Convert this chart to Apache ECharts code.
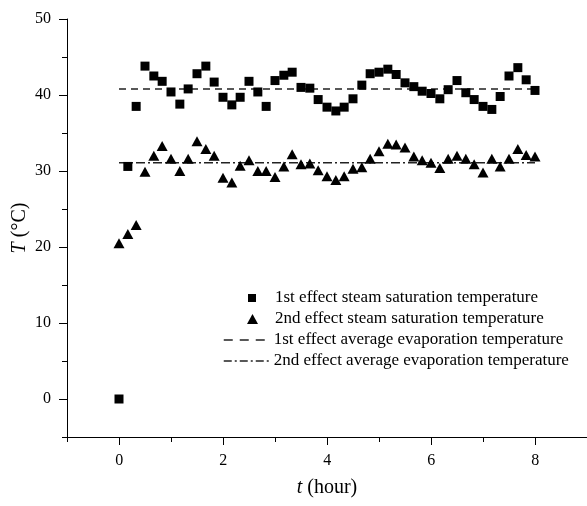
<!DOCTYPE html>
<html>
<head>
<meta charset="utf-8">
<script src="https://cdn.jsdelivr.net/npm/echarts@6/dist/echarts.min.js"></script>
<style>
  html, body { margin: 0; padding: 0; background: #fff; }
  #chart { width: 587px; height: 506px; }
</style>
</head>
<body>
<div id="chart"></div>
<script>
// Sampling times (hour), one reading every 10 minutes
const times = [0, 0.17, 0.33, 0.5, 0.67, 0.83, 1, 1.17, 1.33, 1.5, 1.67, 1.83,
  2, 2.17, 2.33, 2.5, 2.67, 2.83, 3, 3.17, 3.33, 3.5, 3.67, 3.83,
  4, 4.17, 4.33, 4.5, 4.67, 4.83, 5, 5.17, 5.33, 5.5, 5.67, 5.83,
  6, 6.17, 6.33, 6.5, 6.67, 6.83, 7, 7.17, 7.33, 7.5, 7.67, 7.83, 8];

// 1st effect steam saturation temperature (°C)
const firstSteam = [0, 30.6, 38.5, 43.8, 42.5, 41.8, 40.4, 38.8, 40.8, 42.8, 43.8, 41.7,
  39.7, 38.7, 39.7, 41.8, 40.4, 38.5, 41.9, 42.6, 43.0, 41.0, 40.9, 39.4,
  38.4, 37.9, 38.4, 39.5, 41.3, 42.8, 43.0, 43.4, 42.7, 41.6, 41.1, 40.5,
  40.2, 39.5, 40.7, 41.9, 40.3, 39.4, 38.5, 38.1, 39.8, 42.5, 43.6, 42.0, 40.6];

// 2nd effect steam saturation temperature (°C)
const secondSteam = [20.5, 21.7, 22.9, 29.9, 32.0, 33.3, 31.6, 30.0, 31.6, 33.9, 32.9, 32.0,
  29.1, 28.5, 30.7, 31.4, 30.0, 30.0, 29.2, 30.6, 32.2, 30.9, 31.0, 30.1,
  29.3, 28.8, 29.3, 30.3, 30.5, 31.6, 32.6, 33.6, 33.5, 33.1, 31.9, 31.4,
  31.1, 30.4, 31.6, 32.0, 31.6, 30.9, 29.8, 31.6, 30.6, 31.6, 32.9, 32.1, 31.9];

// Average evaporation temperatures (°C), drawn over the run
const avgSpan = [0, 8];
const firstAvg = 40.8;
const secondAvg = 31.1;

const seriesNames = [
  '1st effect steam saturation temperature',
  '2nd effect steam saturation temperature',
  '1st effect average evaporation temperature',
  '2nd effect average evaporation temperature'
];

const FONT = 'Liberation Serif';
const INK = '#000';
const LINE_INK = '#222';

const pair = (xs, ys) => xs.map((x, i) => [x, ys[i]]);

const chart = echarts.init(document.getElementById('chart'), null, { renderer: 'canvas' });

const tickStyle = { color: INK, width: 1 };
const labelStyle = { color: INK, fontFamily: FONT, fontSize: 16 };
const nameStyle = {
  color: INK, fontFamily: FONT, fontSize: 20,
  rich: { i: { fontStyle: 'italic', fontFamily: FONT, fontSize: 20, color: INK } }
};
const legendText = (padLeft) => ({
  color: INK, fontFamily: FONT, fontSize: 17, padding: [0, 0, 0, padLeft]
});

chart.setOption({
  animation: false,
  backgroundColor: '#fff',
  grid: [
    // data grid, minor ticks
    { left: 67, right: 0, top: 19, bottom: 69 },
    // major ticks on the time axis (0 … 8)
    { left: 119.3, right: 51.7, top: 19, bottom: 69 },
    // major ticks on the temperature axis (0 … 50)
    { left: 67, right: 0, top: 19, bottom: 107 }
  ],
  xAxis: [
    {
      gridIndex: 0, type: 'value', min: -1, max: 9, interval: 1,
      axisLine: { show: true, onZero: false, lineStyle: tickStyle },
      axisTick: { show: true, length: 5, lineStyle: tickStyle },
      axisLabel: { show: false },
      splitLine: { show: false },
      name: '{i|t} (hour)', nameLocation: 'middle', nameGap: 41,
      nameTextStyle: nameStyle
    },
    {
      gridIndex: 1, type: 'value', min: 0, max: 8, interval: 2,
      axisLine: { show: false, onZero: false },
      axisTick: { show: true, length: 8, lineStyle: tickStyle },
      axisLabel: Object.assign({ margin: 16 }, labelStyle),
      splitLine: { show: false }
    },
    { gridIndex: 2, type: 'value', min: 0, max: 1, show: false }
  ],
  yAxis: [
    {
      gridIndex: 0, type: 'value', min: -5, max: 50, interval: 5,
      axisLine: { show: true, onZero: false, lineStyle: tickStyle },
      axisTick: { show: true, length: 5, lineStyle: tickStyle },
      axisLabel: { show: false },
      splitLine: { show: false },
      name: '{i|T} (°C)', nameLocation: 'middle', nameGap: 37,
      nameTextStyle: nameStyle
    },
    { gridIndex: 1, type: 'value', min: 0, max: 1, show: false },
    {
      gridIndex: 2, type: 'value', min: 0, max: 50, interval: 10,
      axisLine: { show: false, onZero: false },
      axisTick: { show: true, length: 8, lineStyle: tickStyle },
      axisLabel: Object.assign({ margin: 16 }, labelStyle),
      splitLine: { show: false }
    }
  ],
  legend: [
    {
      orient: 'vertical', left: 243, top: 284.5,
      itemWidth: 8, itemHeight: 8, itemGap: 4,
      data: [seriesNames[0]],
      textStyle: legendText(14)
    },
    {
      orient: 'vertical', left: 242, top: 305.5,
      itemWidth: 11, itemHeight: 10, itemGap: 4,
      data: [seriesNames[1]],
      textStyle: legendText(12)
    },
    {
      orient: 'vertical', left: 218, top: 326.5,
      itemWidth: 45, itemHeight: 10, itemGap: 4,
      itemStyle: { color: 'rgba(0,0,0,0)', borderWidth: 0 },
      data: [
        { name: seriesNames[2], lineStyle: { type: [9, 7], width: 1.5 } },
        { name: seriesNames[3], lineStyle: { type: [8, 3, 2, 3], width: 1.5 } }
      ],
      textStyle: legendText(0)
    }
  ],
  series: [
    {
      name: seriesNames[0], type: 'scatter', xAxisIndex: 0, yAxisIndex: 0,
      symbol: 'rect', symbolSize: 9,
      itemStyle: { color: '#000', opacity: 1 },
      data: pair(times, firstSteam)
    },
    {
      name: seriesNames[1], type: 'scatter', xAxisIndex: 0, yAxisIndex: 0,
      symbol: 'triangle', symbolSize: [11, 10],
      itemStyle: { color: '#000', opacity: 1 },
      data: pair(times, secondSteam)
    },
    {
      name: seriesNames[2], type: 'line', xAxisIndex: 0, yAxisIndex: 0,
      symbol: 'none', z: 1,
      itemStyle: { color: LINE_INK },
      lineStyle: { color: LINE_INK, width: 1.5, type: [7, 5] },
      data: avgSpan.map(x => [x, firstAvg])
    },
    {
      name: seriesNames[3], type: 'line', xAxisIndex: 0, yAxisIndex: 0,
      symbol: 'none', z: 1,
      itemStyle: { color: LINE_INK },
      lineStyle: { color: LINE_INK, width: 1.5, type: [9, 3, 2, 3] },
      data: avgSpan.map(x => [x, secondAvg])
    }
  ]
});
</script>
</body>
</html>
